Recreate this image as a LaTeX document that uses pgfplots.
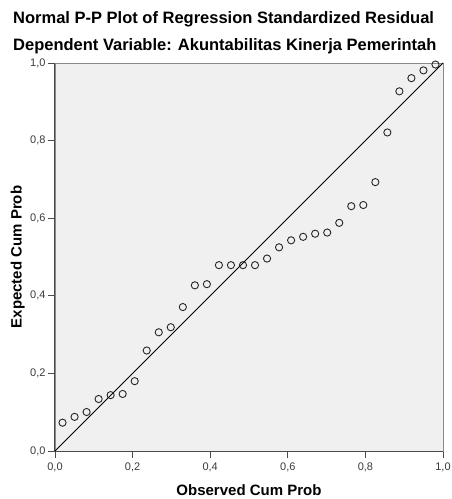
\documentclass[border=0pt]{standalone}
\usepackage{pgfplots}
\pgfplotsset{compat=1.18}
\usepackage{fontspec}
\setmainfont{Liberation Sans}
\definecolor{plotbg}{HTML}{F0F0F0}
\definecolor{axgray}{HTML}{4A4A4A}
\definecolor{boxgray}{HTML}{8A8A8A}
\definecolor{ticklab}{HTML}{3A3A3A}
\begin{document}
\begin{tikzpicture}
\begin{axis}[
  at={(0pt,0pt)}, anchor=south west,
  scale only axis, width=388pt, height=388pt,
  xmin=0, xmax=1, ymin=0, ymax=1,
  axis background/.style={fill=plotbg},
  axis line style={draw=boxgray, line width=0.7pt},
  xtick={0,0.2,0.4,0.6,0.8,1},
  ytick={0,0.2,0.4,0.6,0.8,1},
  xtick pos=bottom, ytick pos=left,
  tick align=outside, major tick length=7pt,
  tick style={draw=axgray, line width=0.9pt},
  /pgf/number format/assume math mode=true,
  /pgf/number format/use comma,
  /pgf/number format/fixed,
  /pgf/number format/fixed zerofill,
  /pgf/number format/precision=1,
  ticklabel style={font=\fontsize{11}{12}\selectfont, text=ticklab},
  xticklabel style={yshift=-1pt},
  yticklabel style={xshift=1pt},
  clip=false,
]
\draw[axgray, line width=1pt] (rel axis cs:0,1) -- (rel axis cs:0,0) -- (rel axis cs:1,0);
\addplot[black, line width=0.8pt] coordinates {(0,0) (1,1)};
\addplot[only marks, mark=o, mark size=3.6pt, mark options={draw=black!85, line width=0.9pt}] coordinates {
(0.0194,0.073) (0.0504,0.088) (0.0814,0.1005) (0.1124,0.134) (0.1434,0.144)
(0.1744,0.147) (0.2054,0.180) (0.2364,0.259) (0.2674,0.306) (0.2984,0.319)
(0.3295,0.371) (0.3605,0.427) (0.3915,0.430) (0.4225,0.479) (0.4535,0.479)
(0.4845,0.479) (0.5155,0.479) (0.5465,0.496) (0.5775,0.525) (0.6085,0.543)
(0.6395,0.552) (0.6705,0.560) (0.7016,0.563) (0.7326,0.588) (0.7636,0.631)
(0.7946,0.634) (0.8256,0.693) (0.8566,0.821) (0.8876,0.927) (0.9186,0.961)
(0.9496,0.981) (0.9806,0.996)
};
\end{axis}
\node[anchor=base west, inner sep=0pt, font=\fontsize{16.5}{18}\selectfont\bfseries] at (-42pt,427pt) {Normal P-P Plot of Regression Standardized Residual};
\node[anchor=base west, inner sep=0pt, font=\fontsize{16.5}{18}\selectfont\bfseries] at (-42pt,400pt) {Dependent Variable: Akuntabilitas Kinerja Pemerintah};
\node[anchor=base, inner sep=0pt, font=\fontsize{15}{17}\selectfont\bfseries] at (194pt,-44.5pt) {Observed Cum Prob};
\node[anchor=base, rotate=90, inner sep=0pt, font=\fontsize{15}{17}\selectfont\bfseries] at (-33.3pt,194pt) {Expected Cum Prob};
\pgfresetboundingbox
\useasboundingbox (-55pt,-48pt) rectangle (397pt,451pt);
\end{tikzpicture}
\end{document}
